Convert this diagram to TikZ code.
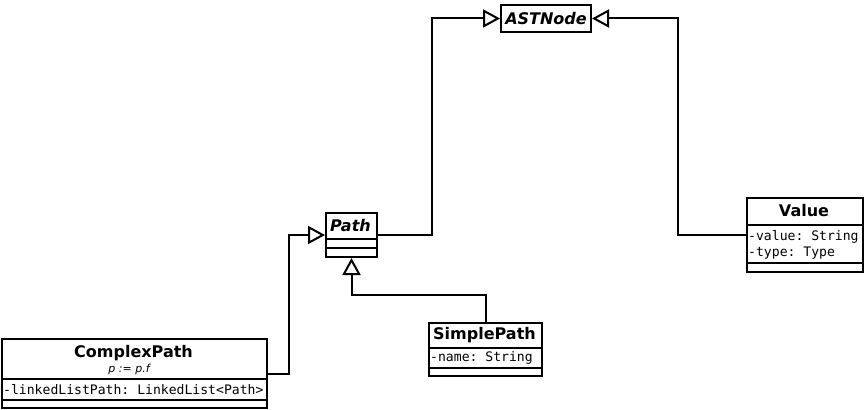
\documentclass[tikz,border=0pt]{standalone}
\usepackage{fontspec}
\setmainfont{DejaVu Sans}
\setmonofont{DejaVu Sans Mono}
\usetikzlibrary{arrows.meta}
\begin{document}
\begin{tikzpicture}[x=1pt,y=-1pt,
  cls/.style={draw, line width=2pt, inner sep=0pt, anchor=north west, fill=white},
  ttl/.style={font=\fontsize{16}{17}\selectfont\bfseries, inner sep=0pt},
  ittl/.style={font=\fontsize{16}{17}\selectfont\bfseries\itshape, inner sep=0pt},
  attr/.style={font=\fontsize{13.1}{16}\selectfont\ttfamily, inner sep=0pt, anchor=west, align=left},
  sep/.style={line width=2pt},
  inh/.style={line width=2pt, -{Triangle[open, length=17pt, width=18pt, line width=2pt]}}
]
\useasboundingbox (0,0) rectangle (866,409);

% ASTNode
\node[cls, minimum width=90, minimum height=27] (ast) at (500,4) {};
\node[ittl] (astT) at (ast.center) {ASTNode};

% Path
\node[cls, minimum width=51, minimum height=44] (path) at (325,212) {};
\node[ittl] (pathT) at (350.5,225.5) {Path};
\draw[sep] (325,239) -- (376,239);
\draw[sep] (325,247.5) -- (376,247.5);

% Value
\node[cls, minimum width=116, minimum height=74] (value) at (746,197) {};
\node[ttl] (valueT) at (804,211) {Value};
\draw[sep] (746,225) -- (862,225);
\node[attr] (valueA) at (748,244.5) {-value:\ String\\-type:\ Type};
\draw[sep] (746,263) -- (862,263);

% SimplePath
\node[cls, minimum width=113, minimum height=53] (sp) at (428,322) {};
\node[ttl] (spT) at (484.5,335) {SimplePath};
\draw[sep] (428,348) -- (541,348);
\node[attr] (spA) at (430,358) {-name:\ String};
\draw[sep] (428,368) -- (541,368);

% ComplexPath
\node[cls, minimum width=265, minimum height=69] (cp) at (1,338) {};
\node[ttl] (cpT) at (133.5,353) {ComplexPath};
\node[font=\fontsize{11}{12}\selectfont\itshape, inner sep=0pt] (cpS) at (129,369.5) {p := p.f};
\draw[sep] (1,379) -- (266,379);
\node[attr] (cpA) at (3,389.5) {-linkedListPath:\ LinkedList<Path>};
\draw[sep] (1,400) -- (266,400);

% connectors
\draw[inh] (path.east) -- ++(54,0) |- (ast.west);
\draw[inh] (value.west) -- ++(-68,0) |- (ast.east);
\draw[inh] (sp.north) -- ++(0,-27) -| (path.south);
\draw[inh] (cp.east) -- ++(21,0) |- (path.west);
\end{tikzpicture}
\end{document}
